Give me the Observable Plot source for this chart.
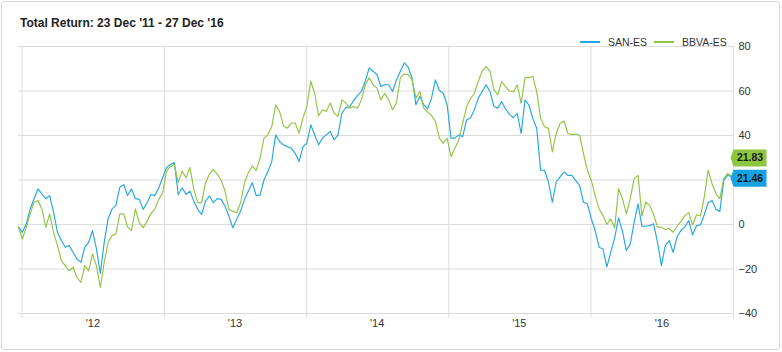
<!DOCTYPE html>
<html><head><meta charset="utf-8">
<script src="https://cdn.jsdelivr.net/npm/d3@7"></script>
<script src="https://cdn.jsdelivr.net/npm/@observablehq/plot@0.6"></script>
<style>
html,body{margin:0;padding:0;background:#fff;}
#chart{position:relative;width:782px;height:352px;font-family:"Liberation Sans",Arial,sans-serif;overflow:hidden;background:#fff;}
#chart svg{position:absolute;left:0;top:0;}
#frame{position:absolute;left:1px;top:1px;width:777px;height:347px;border:1px solid #d8d8d8;border-radius:3px;pointer-events:none;z-index:2;}
#title{position:absolute;left:20px;top:16px;font-size:12px;font-weight:bold;line-height:15px;color:#222;white-space:nowrap;z-index:2;}
#legend{position:absolute;left:580px;top:36px;display:flex;align-items:center;font-size:10.5px;line-height:12px;color:#333;white-space:nowrap;z-index:2;}
.sw{display:inline-block;width:20px;height:1.5px;margin-right:8px;}
.lab{margin-right:7px;}
</style></head>
<body>
<div id="chart">
  <div id="frame"></div>
  <div id="title">Total Return: 23 Dec '11 - 27 Dec '16</div>
  <div id="legend"></div>
</div>
<script>
const seriesNames = ["SAN-ES", "BBVA-ES"];
const seriesColors = ["#22a8df", "#92c444"];
const labelColors = ["#18a3e0", "#8dc63f"];
const lastLabels = ["21.46", "21.83"];
const startDate = "2011-12-23";
const endDate = "2016-12-27";
const domainEnd = "2017-01-01";

const sanValues = [
 -1.2,-3.5,0.3,7,11.6,16,13.8,11.6,13,5.5,
 -3.5,-7.2,-10.2,-9.5,-12.5,-15.5,-17,-10.2,-8,-2.7,
 -11,-22,-8,2.6,7,8.6,16.8,17.9,13,16,
 11.6,11.3,6.8,9.8,13.5,13,16.5,21,25.6,27,
 27.8,13.5,16.5,13.5,15,10.5,6.8,4.5,10.5,12.8,
 9.8,11.6,11.3,8.3,3.8,-1.5,2.3,6,11.3,15,
 18.8,13,13.2,20,23.8,28.3,40.3,37.3,35.8,35,
 34.3,32,28.3,35,36.5,44.8,40.3,35.8,38.8,40.3,
 41.8,38,40.3,50,52.6,53,55.6,58,59.8,64.4,
 70.4,68.9,67.4,62,62.8,62.8,59.8,65,68.9,72.6,
 70.7,65.9,53.8,57.6,53.8,52,56.8,65,60.2,59,
 53.8,38.8,38.8,40.3,39.5,47,48,51.6,56.8,59.8,
 62.8,59.8,53,52.3,55.2,51.9,49.5,48,49.9,40.9,
 55.9,53.7,47.7,43.2,24.4,24.4,19.1,10,19.1,21.4,
 23.6,22.1,22.1,19.8,17.6,10,9.3,2.6,-2.7,-10.2,
 -11,-19,-12.5,-6,3,-3,-11.7,-8.7,1,9.3,
 -0.8,-0.8,-0.5,0.3,-8,-18.5,-9.5,-7.2,-12.5,-5.7,
 -2.7,-1.2,1.8,-4.7,-0.5,-0.2,4.4,9.8,10.8,6.8,
 5.9,19.8,22.1,21.46
];
const bbvaValues = [
 -1.2,-6.5,-1.2,4.8,10,10.8,7,-1.2,4.8,-3.5,
 -9.5,-16.2,-18.5,-20.8,-19.2,-23.8,-26,-18.5,-20.8,-13.2,
 -18.5,-28.3,-17,-8,-5,-4.2,4.8,4.8,-1.2,-2.7,
 7,0.8,-1.5,1.5,5,7,11.3,14.3,24,26,
 27,18.8,24,21,25.6,15.8,9.8,9.8,18.8,22.6,
 24.8,22.6,20,15,6.8,6,5.3,9.8,18.8,23.3,
 26.3,24.3,29.8,38.8,40.3,44,53.8,50.8,44.4,43.3,
 45.6,45.6,41,47.8,53,64.4,59,48.9,51.6,50.8,
 54.6,50,48.6,56,54.6,52.3,53,52.3,56,62.8,
 65.9,62.8,61.4,56,59,56,51.6,54.6,65.9,67.7,
 67.4,65,56.8,59.8,52.3,50.5,49,46.3,38.8,36.5,
 38.8,30.5,34.3,38,45.6,53,56.5,59,64.4,68.9,
 71,68.9,60.6,58.3,64.2,62,60,59.7,62.7,54.4,
 66,66,66.5,59.7,47.7,43.9,43.2,32.6,40.9,45.4,
 46.5,40.9,40.5,40.5,40.2,31.9,24.4,19.8,13,7.1,
 4,0,2.5,-1.5,16.1,11.6,4.8,11.6,20.6,22.1,
 3.8,10,8.6,4.4,-1.2,-1.2,-2.3,-1.7,-3.5,-0.8,
 1.4,4,5.3,-0.2,4.4,3.8,12.3,24.4,18.3,13.8,
 11.6,20.6,22.9,21.83
];
const yTicks = [-40, -20, 0, 20, 40, 60, 80];
// the "20" label is hidden behind the last-value boxes in the reference
const yTickLabels = [-40, -20, 0, 40, 60, 80];
const yearBounds = ["2012-01-01","2013-01-01","2014-01-01","2015-01-01","2016-01-01","2017-01-01"];
const labelDates = ["2012-07-01","2013-07-01","2014-07-01","2015-07-01","2016-07-01"];
const yearLabels = ["'12","'13","'14","'15","'16"];

const t0 = new Date(startDate), t1 = new Date(endDate);
function toRows(values, name) {
  const n = values.length;
  return values.map((v, i) => ({date: new Date(+t0 + (t1 - t0) * i / (n - 1)), value: v, series: name}));
}
const sanRows = toRows(sanValues, seriesNames[0]);
const bbvaRows = toRows(bbvaValues, seriesNames[1]);
const lastRows = [
  {...sanRows[sanRows.length - 1], label: lastLabels[0]},
  {...bbvaRows[bbvaRows.length - 1], label: lastLabels[1]}
];

const labelSymbol = {
  draw(ctx) {
    ctx.moveTo(0, 0);
    ctx.lineTo(3, -8.5);
    ctx.lineTo(36, -8.5);
    ctx.lineTo(36, 8.5);
    ctx.lineTo(3, 8.5);
    ctx.closePath();
  }
};

const gridColor = "#dcdcdc";
const plot = Plot.plot({
  width: 782,
  height: 352,
  marginLeft: 18,
  marginRight: 49,
  marginTop: 46,
  marginBottom: 39,
  x: {type: "utc", domain: [new Date(startDate), new Date(domainEnd)], axis: null},
  y: {domain: [-40, 80], axis: null},
  style: {fontFamily: "'Liberation Sans', Arial, sans-serif", fontSize: "11px", color: "#333", background: "transparent"},
  marks: [
    Plot.gridY(yTicks, {stroke: gridColor, strokeOpacity: 1}),
    Plot.gridX(yearBounds.map(d => new Date(d)), {stroke: gridColor, strokeOpacity: 1}),
    Plot.axisX(yearBounds.map(d => new Date(d)), {tickSize: 5, tickFormat: () => "", stroke: gridColor, strokeOpacity: 1, label: null}),
    Plot.text(yearLabels, {x: (d, i) => new Date(labelDates[i]), text: d => d, frameAnchor: "bottom", dy: 13, fill: "#333", fontSize: 11}),
    Plot.axisY(yTickLabels, {anchor: "right", tickSize: 0, tickPadding: 5, fill: "#333", fontSize: 11, label: null}),
    Plot.line(sanRows, {x: "date", y: "value", stroke: seriesColors[0], strokeWidth: 1.15}),
    Plot.line(bbvaRows, {x: "date", y: "value", stroke: seriesColors[1], strokeWidth: 1.15}),
    Plot.dot([lastRows[0]], {x: "date", y: "value", r: 1, symbol: labelSymbol, fill: labelColors[0], stroke: "none", dx: -1, dy: 1.5}),
    Plot.dot([lastRows[1]], {x: "date", y: "value", r: 1, symbol: labelSymbol, fill: labelColors[1], stroke: "none", dx: -1, dy: -18}),
    Plot.text([lastRows[0]], {x: "date", y: "value", text: "label", dx: 18.5, dy: 1.5, fill: "#1a1a1a", fontWeight: "bold", fontSize: 10.5}),
    Plot.text([lastRows[1]], {x: "date", y: "value", text: "label", dx: 18.5, dy: -18, fill: "#1a1a1a", fontWeight: "bold", fontSize: 10.5})
  ]
});
document.getElementById("chart").prepend(plot);

const legend = document.getElementById("legend");
seriesNames.forEach((name, i) => {
  const sw = document.createElement("span");
  sw.className = "sw";
  sw.style.background = seriesColors[i];
  const lab = document.createElement("span");
  lab.className = "lab";
  lab.textContent = name;
  legend.appendChild(sw);
  legend.appendChild(lab);
});
</script>
</body></html>
